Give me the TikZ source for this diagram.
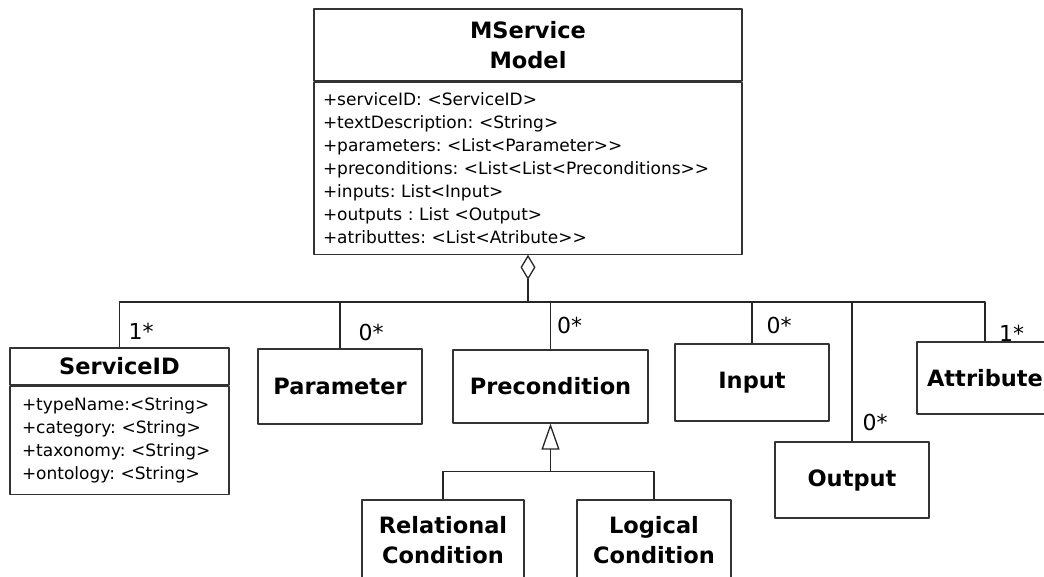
\documentclass[tikz,border=0pt]{standalone}
\usepackage{fontspec}
\setmainfont{DejaVu Sans}
\usetikzlibrary{arrows.meta,positioning}
\frenchspacing
\begin{document}
\begin{tikzpicture}[x=1pt,y=-1pt,line join=round,
	cls/.style={draw=black!80,line width=1.2pt,fill=white,inner sep=0pt,align=center,font=\fontsize{22.5}{30}\selectfont\bfseries},
	attrs/.style={draw=black!80,line width=1.2pt,align=left,font=\fontsize{17}{23}\selectfont},
	mult/.style={inner sep=0pt,anchor=base west,font=\fontsize{22}{26}\selectfont},
	link/.style={draw=black!85,line width=1.3pt}]
	\useasboundingbox (0,0) rectangle (1044,576);
	\clip (0,0) rectangle (1044,576);
	% clases
	\node[cls,minimum width=428pt,minimum height=72pt] (mserv) at (528,45) {MService\\Model};
	\node[attrs,anchor=north,minimum height=172pt,text width=410pt,inner xsep=9pt] (mservattr) at (mserv.south) {+serviceID: <ServiceID>\\+textDescription: <String>\\+parameters: <List<Parameter>{}>\\+preconditions: <List<List<Preconditions>{}>\\+inputs: List<Input>\\+outputs : List <Output>\\+atributtes: <List<Atribute>{}>};
	\node[cls,minimum width=219pt,minimum height=37pt] (sid) at (119.5,366.5) {ServiceID};
	\node[attrs,anchor=north,minimum height=108pt,text width=195pt,inner xsep=12pt] (sidattr) at (sid.south) {+typeName:<String>\\+category: <String>\\+taxonomy: <String>\\+ontology: <String>};
	\node[cls,minimum width=164pt,minimum height=75pt] (param) at (340,386.5) {Parameter};
	\node[cls,minimum width=195pt,minimum height=73pt] (precond) at (550.5,386.5) {Precondition};
	\node[cls,minimum width=154pt,minimum height=77pt] (inp) at (752,382.5) {Input};
	\node[cls,minimum width=154pt,minimum height=76pt] (outp) at (852,480) {Output};
	\node[cls,minimum width=136pt,minimum height=72pt] (attr) at (985,378) {Attribute};
	\node[cls,minimum width=162pt,minimum height=80pt] (rel) at (443,540) {Relational\\Condition};
	\node[cls,minimum width=154pt,minimum height=80pt] (logic) at (654,540) {Logical\\Condition};
	% agregacion
	\coordinate (bus) at (528,302);
	\draw[link,{Diamond[open,length=25pt,width=15pt]}-] (mservattr.south) -- (bus);
	\draw[link] (sid.north) |- (bus) -| (attr.north);
	\foreach \c in {param,precond,inp,outp} \draw[link] (\c.north) -- (\c.north |- bus);
	% multiplicidades
	\node[mult] (msid) at ([xshift=9pt,yshift=8pt]sid.north) {1*};
	\node[mult] (mparam) at ([xshift=18.5pt,yshift=8pt]param.north) {0*};
	\node[mult] (mprecond) at ([xshift=6.5pt,yshift=16pt]precond.north) {0*};
	\node[mult] (minp) at ([xshift=14.5pt,yshift=10pt]inp.north) {0*};
	\node[mult] (moutp) at ([xshift=10.5pt,yshift=11pt]outp.north) {0*};
	\node[mult] (mattr) at ([xshift=14pt,yshift=0pt]attr.north) {1*};
	% herencia
	\coordinate (gen) at ([yshift=-48pt]precond.south);
	\draw[link,-{Triangle[open,length=26pt,width=18pt]}] (gen) -- (precond.south);
	\draw[link] (rel.north) |- (gen) -| (logic.north);
\end{tikzpicture}
\end{document}
